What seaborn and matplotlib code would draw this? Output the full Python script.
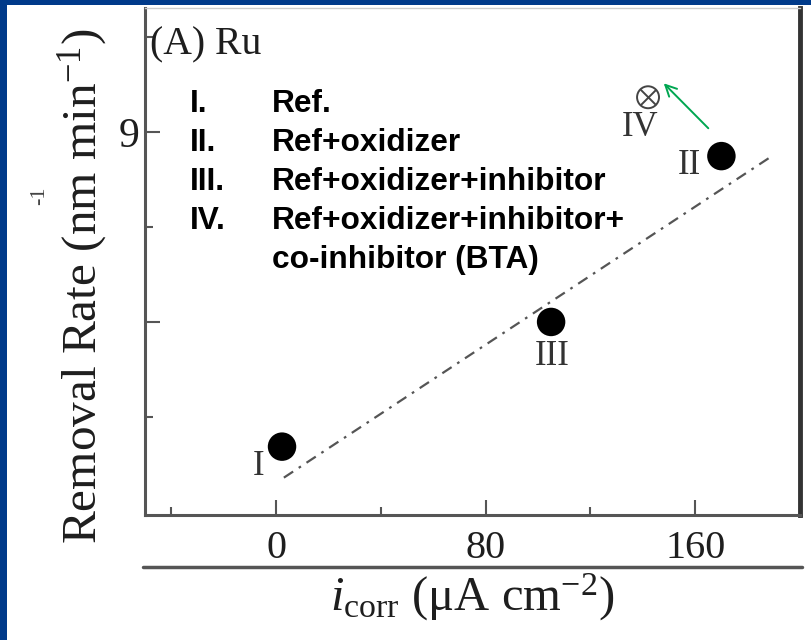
import matplotlib.pyplot as plt
import matplotlib.lines as mlines
import matplotlib.patches as mpatches
import pandas as pd
import seaborn as sns

# data
labels = ["I", "II", "III"]
icorr = [2.3, 170.0, 105.0]
rate = [4.03, 8.62, 6.0]
iv_icorr = [142.0]
iv_rate = [9.55]
fit_icorr = [3.0, 190.0]
fit_rate = [3.54, 8.64]
arrow_tail = (165.0, 9.06)
arrow_head = (148.0, 9.77)
legend_num = ["I.", "II.", "III.", "IV.", ""]
legend_txt = ["Ref.", "Ref+oxidizer", "Ref+oxidizer+inhibitor",
              "Ref+oxidizer+inhibitor+", "co-inhibitor (BTA)"]
x_major = [0, 80, 160]
x_minor = [-40, 40, 120, 200]
y_major = [9, 6]
y_major_lab = ["9", ""]
y_minor = [4.5, 7.5, 10.5]

sns.set_style("ticks")
plt.rcParams["font.family"] = ["Liberation Serif", "DejaVu Serif"]
plt.rcParams["mathtext.fontset"] = "custom"
plt.rcParams["mathtext.rm"] = "Liberation Serif"
plt.rcParams["mathtext.it"] = "Liberation Serif:italic"

W, H = 811, 640
ink = "#1e1e1e"
fig = plt.figure(figsize=(W / 100, H / 100), dpi=100)
fig.patch.set_facecolor("#003A8A")
fig.add_artist(mpatches.Rectangle((7 / W, 0), 1, 1 - 5 / H, transform=fig.transFigure,
                                  facecolor="white", edgecolor="none", zorder=0))

ax = fig.add_axes([145 / W, 1 - 515 / H, 655 / W, 507 / H])
ax.set_facecolor("white")

df = pd.DataFrame({"icorr": icorr, "rate": rate, "label": labels})
fit = pd.DataFrame({"icorr": fit_icorr, "rate": fit_rate})

sns.lineplot(data=fit, x="icorr", y="rate", ax=ax, color="#555555", lw=1.6,
             linestyle=(0, (5, 3, 1.2, 3)), zorder=2)
sns.scatterplot(data=df, x="icorr", y="rate", ax=ax, color="black", s=420,
                edgecolor="none", zorder=3)
ax.scatter(iv_icorr, iv_rate, s=250, facecolor="none", edgecolor="#444444",
           lw=1.4, zorder=3)
ax.scatter(iv_icorr, iv_rate, s=125, marker="x", color="#444444", lw=1.4, zorder=3)

offsets = {"I": (-17, -14), "II": (-23, -7), "III": (1, -25)}
for _, r in df.iterrows():
    ax.annotate(r["label"], (r["icorr"], r["rate"]), xytext=offsets[r["label"]],
                textcoords="offset points", ha="center", va="center",
                fontsize=25, color="#333333")
ax.annotate("IV", (iv_icorr[0], iv_rate[0]), xytext=(-6, -22),
            textcoords="offset points", ha="center", va="center",
            fontsize=25, color="#333333")
ax.annotate("", xy=arrow_head, xytext=arrow_tail,
            arrowprops=dict(arrowstyle="->", color="#00A651", lw=1.4,
                            mutation_scale=20, shrinkA=0, shrinkB=0))

ax.text(0.008, 0.928, "(A) Ru", transform=ax.transAxes, fontsize=28.5,
        ha="left", va="center", color=ink)

for i, (n, t) in enumerate(zip(legend_num, legend_txt)):
    yy = 1 - (104 + 39 * i - 8) / 507
    ax.text((190 - 145) / 655, yy, n, transform=ax.transAxes, fontsize=22.8,
            fontweight="bold", family="Liberation Sans", ha="left", va="center",
            color="black")
    ax.text((272 - 145) / 655, yy, t, transform=ax.transAxes, fontsize=22.8,
            fontweight="bold", family="Liberation Sans", ha="left", va="center",
            color="black")

ax.set_xlim(-50, 200)
ax.set_ylim(2.95, 10.96)
ax.set_xticks(x_major)
ax.set_xticks(x_minor, minor=True)
ax.set_yticks(y_major)
ax.set_yticklabels(y_major_lab)
ax.set_yticks(y_minor, minor=True)
ax.tick_params(which="both", direction="in", color="#555555", width=1.5,
               labelcolor=ink)
ax.tick_params(axis="x", labelsize=29, pad=11)
ax.tick_params(axis="y", labelsize=30, pad=4)
ax.tick_params(which="major", length=11)
ax.tick_params(which="minor", length=6)

for s in ["left", "bottom"]:
    ax.spines[s].set_color("#555555")
    ax.spines[s].set_linewidth(2.2)
ax.spines["right"].set_color("#333333")
ax.spines["right"].set_linewidth(3.5)
ax.spines["top"].set_color("#cccccc")
ax.spines["top"].set_linewidth(1.0)

ax.set_xlabel(r"$i_{\mathrm{corr}}$ ($\mathrm{\mu}$A cm$^{-2}$)", fontsize=35,
              color=ink, labelpad=3)
ax.set_ylabel(r"Removal Rate (nm min$^{-1}$)", fontsize=35.5, color=ink)
ax.yaxis.set_label_coords(-0.053, 0.452)

fig.add_artist(mlines.Line2D([143 / W, 802 / W], [1 - 567 / H] * 2,
                             transform=fig.transFigure, color="#555555", lw=2.5))
fig.text(40 / W, 1 - 196 / H, "-1", rotation=90, fontsize=16, color="#444444",
         ha="center", va="center")

fig.savefig("out.png", dpi=100, facecolor=fig.get_facecolor())
